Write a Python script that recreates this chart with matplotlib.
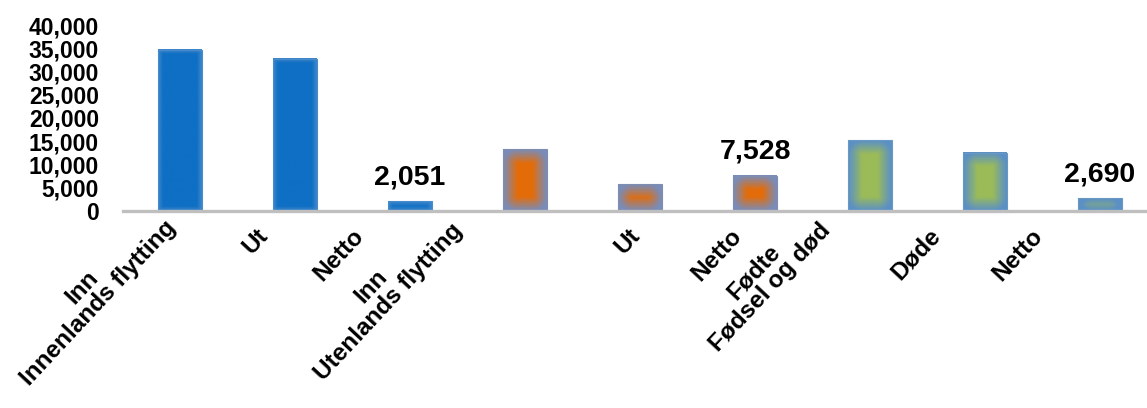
import numpy as np
import matplotlib.pyplot as plt
from matplotlib.ticker import FuncFormatter
import matplotlib.transforms as mtransforms

# Data
categories = ["Inn\nInnenlands flytting", "Ut", "Netto",
              "Inn\nUtenlands flytting", "Ut", "Netto",
              "Fødte\nFødsel og død", "Døde", "Netto"]
values = [34700, 32700, 2051, 13300, 5772, 7528, 15200, 12510, 2690]
groups = [0, 0, 0, 1, 1, 1, 2, 2, 2]
netto_idx = [2, 5, 8]
yticks = [0, 5000, 10000, 15000, 20000, 25000, 30000, 35000, 40000]

# inner colour, edge colour, glow band in px, outline colour
styles = [
    ("#0E6FC4", "#3F86CA", 5, "#4A8BCB"),
    ("#E36C09", "#7A8CB8", 14, "#7F8DB0"),
    ("#9BBB59", "#5B90C6", 14, "#6B98C2"),
]

plt.rcParams['font.family'] = ['Liberation Sans', 'DejaVu Sans']

fig = plt.figure(figsize=(11.47, 4.08), dpi=100)
ax = fig.add_axes([122.5 / 1147, (408 - 211) / 408, 1035 / 1147, 186 / 408])

x = np.arange(len(values))
bars = ax.bar(x, values, width=0.38, color="none", linewidth=0.8, zorder=2)
ax.set_xlim(-0.5, len(values) - 0.5)
ax.set_ylim(0, 40000)

fig.canvas.draw()


def glow(bar, inner, edge, band):
    x0, y0 = bar.get_x(), bar.get_y()
    w, h = bar.get_width(), bar.get_height()
    p0 = ax.transData.transform((x0, y0))
    p1 = ax.transData.transform((x0 + w, y0 + h))
    nx = max(int(abs(p1[0] - p0[0])), 2)
    ny = max(int(abs(p1[1] - p0[1])), 2)
    xs = np.arange(nx) + 0.5
    ys = np.arange(ny) + 0.5
    dx = np.minimum(xs, nx - xs)[None, :]
    dy = np.minimum(ys, ny - ys)[:, None]
    # soft rectangular glow, edge colour fading into the fill
    r = np.sqrt(np.clip(1 - dx / band, 0, 1) ** 2 + np.clip(1 - dy / band, 0, 1) ** 2)
    t = np.clip(1 - r, 0, 1) ** 1.1
    c_in = np.array(plt.matplotlib.colors.to_rgb(inner))
    c_ed = np.array(plt.matplotlib.colors.to_rgb(edge))
    img = c_ed + (c_in - c_ed) * t[..., None]
    ax.imshow(img, extent=(x0, x0 + w, y0, y0 + h), aspect="auto",
              interpolation="bilinear", zorder=1.5)


for bar, g in zip(bars, groups):
    inner, edge, band, outline = styles[g]
    glow(bar, inner, edge, band)
    bar.set_edgecolor(outline)

ax.set_xlim(-0.5, len(values) - 0.5)
ax.set_ylim(0, 40000)

# data labels on the netto bars
for i in netto_idx:
    ax.annotate(f"{values[i]:,}", (x[i], values[i]), xytext=(0, 8),
                textcoords="offset points", ha="center", va="bottom",
                fontsize=20.5, fontweight="bold")

ax.set_yticks(yticks)
ax.yaxis.set_major_formatter(FuncFormatter(lambda v, p: f"{int(v):,}"))
ax.tick_params(axis="y", length=0, pad=17, labelsize=16.5)
for lbl in ax.get_yticklabels():
    lbl.set_fontweight("bold")

ax.set_xticks(x)
ax.set_xticklabels(categories, rotation=47, ha="right", va="top",
                   rotation_mode="anchor", multialignment="center",
                   fontsize=17.5, fontweight="bold", linespacing=1.0)
ax.tick_params(axis="x", length=0, pad=14)

# Excel places the rotated labels a little left of / above the bar centres
label_dx = [-33, -39, -59, -92, -12, -26, -68, -57, -70]
label_dy = [30, 6, 6, 27, 6, 6, 27, 6, 6]
for lbl, dx, dy in zip(ax.get_xticklabels(), label_dx, label_dy):
    lbl.set_transform(lbl.get_transform() +
                      mtransforms.ScaledTranslation(dx / 100, dy / 100, fig.dpi_scale_trans))

for s in ["top", "right", "left"]:
    ax.spines[s].set_visible(False)
ax.spines["bottom"].set_color("#BFBFBF")
ax.spines["bottom"].set_linewidth(2.4)
ax.spines["bottom"].set_zorder(3)

fig.savefig("out.png", dpi=100)
